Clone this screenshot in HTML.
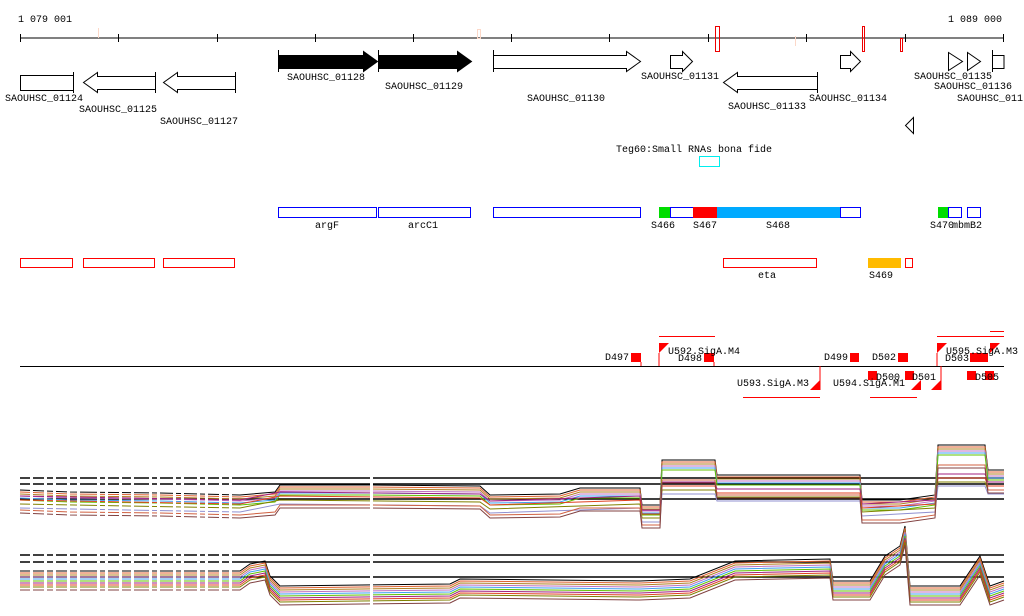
<!DOCTYPE html>
<html><head><style>
body{margin:0;background:#fff;width:1024px;height:611px;overflow:hidden}
svg text{font-family:"Liberation Mono",monospace;font-size:10px;fill:#000}
</style></head><body>
<svg width="1024" height="611" xmlns="http://www.w3.org/2000/svg">
<defs>
<polyline id="p1" fill="none" points="20,490 70,492 160,493 240,495 275,492 280,485 370,485 480,486 490,495 560,494 580,488 640,488 642,505 660,505 662,460 715,460 717,475 860,475 862,500 900,500 935,495 938,445 985,445 988,470 1004,470"/>
<polyline id="p1b" fill="none" points="20,492 240,496 280,488 480,490 490,497 640,492 642,506 660,506 662,478 715,478 717,485 860,485 862,500 935,496 938,470 985,470 988,478 1004,478"/>
<polyline id="p2" fill="none" points="20,575 240,575 250,568 265,565 270,580 280,590 450,588 460,583 640,585 690,583 735,565 830,563 833,585 870,585 885,560 900,550 905,530 910,590 960,590 980,560 990,590 1004,585"/>
</defs>
<text x="18" y="22">1 079 001</text>
<text x="1002" y="22" text-anchor="end">1 089 000</text>
<line x1="20" y1="38" x2="1004" y2="38" stroke="#000"/>
<g stroke="#000">
<line x1="20.5" y1="34" x2="20.5" y2="42"/><line x1="118.5" y1="34" x2="118.5" y2="42"/><line x1="217.5" y1="34" x2="217.5" y2="42"/><line x1="315.5" y1="34" x2="315.5" y2="42"/><line x1="413.5" y1="34" x2="413.5" y2="42"/><line x1="511.5" y1="34" x2="511.5" y2="42"/><line x1="609.5" y1="34" x2="609.5" y2="42"/><line x1="708.5" y1="34" x2="708.5" y2="42"/><line x1="806.5" y1="34" x2="806.5" y2="42"/><line x1="905.5" y1="34" x2="905.5" y2="42"/><line x1="1003.5" y1="34" x2="1003.5" y2="42"/>
</g>
<g fill="none" stroke="#fcd8c8"><line x1="98.5" y1="28" x2="98.5" y2="38"/><rect x="477.5" y="29.5" width="3" height="9"/><line x1="795.5" y1="36" x2="795.5" y2="46"/></g>
<g fill="none" stroke="#e00"><rect x="715.5" y="26.5" width="4" height="25"/><rect x="862.5" y="26.5" width="2" height="25"/><rect x="900.5" y="38.5" width="2" height="13"/></g>
<g stroke="#000" fill="#fff">
<path d="M20.5,75.5H73.5V90.5H20.5Z"/><line x1="73.5" y1="72" x2="73.5" y2="93"/>
<path d="M155.5,76.5H97.5V72.5L83.5,82.5L97.5,92.5V89.5H155.5Z"/><line x1="155.5" y1="72" x2="155.5" y2="93"/>
<path d="M235.5,76.5H177.5V72.5L163.5,82.5L177.5,92.5V89.5H235.5Z"/><line x1="235.5" y1="72" x2="235.5" y2="93"/>
<path d="M278.5,55.5H363.5V51.5L377.5,61.5L363.5,71.5V68.5H278.5Z" fill="#000"/><line x1="278.5" y1="50" x2="278.5" y2="72"/>
<path d="M378.5,55.5H457.5V51.5L471.5,61.5L457.5,71.5V68.5H378.5Z" fill="#000"/><line x1="378.5" y1="50" x2="378.5" y2="72"/>
<path d="M493.5,55.5H626.5V51.5L640.5,61.5L626.5,71.5V68.5H493.5Z"/><line x1="493.5" y1="50" x2="493.5" y2="72"/>
<path d="M670.5,55.5H682.5V51.5L692.5,61.5L682.5,71.5V68.5H670.5Z"/>
<path d="M817.5,76.5H737.5V72.5L723.5,82.5L737.5,92.5V89.5H817.5Z"/><line x1="817.5" y1="72" x2="817.5" y2="93"/>
<path d="M840.5,55.5H850.5V51.5L860.5,61.5L850.5,71.5V68.5H840.5Z"/>
<path d="M948.5,52.5L962.5,61.5L948.5,70.5Z"/><path d="M967.5,52.5L980.5,61.5L967.5,70.5Z"/>
<path d="M992.5,55.5H1004V68.5H992.5Z"/><line x1="992.5" y1="50" x2="992.5" y2="72"/>
<path d="M913.5,117.5L905.5,125.5L913.5,133.5Z"/>
</g>
<text x="5" y="101">SAOUHSC_01124</text>
<text x="79" y="112">SAOUHSC_01125</text>
<text x="160" y="124">SAOUHSC_01127</text>
<text x="287" y="80">SAOUHSC_01128</text>
<text x="385" y="89">SAOUHSC_01129</text>
<text x="527" y="101">SAOUHSC_01130</text>
<text x="641" y="79">SAOUHSC_01131</text>
<text x="728" y="109">SAOUHSC_01133</text>
<text x="809" y="101">SAOUHSC_01134</text>
<text x="914" y="79">SAOUHSC_01135</text>
<text x="934" y="89">SAOUHSC_01136</text>
<text x="957" y="101">SAOUHSC_011</text>
<text x="616" y="152">Teg60:Small RNAs bona fide</text>
<rect x="699.5" y="156.5" width="20" height="10" fill="none" stroke="#0ee"/>
<g fill="#fff" stroke="#00f">
<rect x="278.5" y="207.5" width="98" height="10"/><rect x="378.5" y="207.5" width="92" height="10"/><rect x="493.5" y="207.5" width="147" height="10"/>
<rect x="670.5" y="207.5" width="23" height="10"/><rect x="840.5" y="207.5" width="20" height="10"/>
<rect x="948.5" y="207.5" width="13" height="10"/><rect x="967.5" y="207.5" width="13" height="10"/>
</g>
<rect x="659" y="207" width="11" height="11" fill="#0d0"/>
<rect x="693" y="207" width="24" height="11" fill="#f00"/>
<rect x="717" y="207" width="123" height="11" fill="#0af"/>
<rect x="938" y="207" width="10" height="11" fill="#0d0"/>
<text x="327" y="228" text-anchor="middle">argF</text>
<text x="423" y="228" text-anchor="middle">arcC1</text>
<text x="663" y="228" text-anchor="middle">S466</text>
<text x="705" y="228" text-anchor="middle">S467</text>
<text x="778" y="228" text-anchor="middle">S468</text>
<text x="930" y="228">S470</text><text x="952" y="228">mbmB2</text>
<g fill="#fff" stroke="#f00">
<rect x="20.5" y="258.5" width="52" height="9"/><rect x="83.5" y="258.5" width="71" height="9"/><rect x="163.5" y="258.5" width="71" height="9"/>
<rect x="723.5" y="258.5" width="93" height="9"/><rect x="905.5" y="258.5" width="7" height="9"/>
</g>
<rect x="868" y="258" width="33" height="10" fill="#fb0"/>
<text x="767" y="278" text-anchor="middle">eta</text>
<text x="869" y="278">S469</text>
<line x1="20" y1="366.5" x2="1004" y2="366.5" stroke="#000"/>
<g fill="#f00">
<rect x="631" y="353" width="10" height="9"/><rect x="704" y="353" width="10" height="9"/><rect x="850" y="353" width="9" height="9"/><rect x="898" y="353" width="10" height="9"/>
<rect x="868" y="371" width="9" height="9"/><rect x="905" y="371" width="9" height="9"/><rect x="967" y="371" width="9" height="9"/><rect x="985" y="371" width="9" height="9"/>
<rect x="970" y="353" width="18" height="9"/>
<path d="M659,343h10l-10,10z"/><path d="M937,343h10l-10,10z"/><path d="M990,343h10l-10,10z"/>
<path d="M820,390h-10l10,-10z"/><path d="M941,390h-10l10,-10z"/><path d="M921,390h-10l10,-10z"/>
</g>
<g stroke="#f00" fill="none">
<line x1="659" y1="336.5" x2="715" y2="336.5"/><line x1="937" y1="336.5" x2="1004" y2="336.5"/><line x1="990" y1="331.5" x2="1004" y2="331.5"/>
<line x1="743" y1="397.5" x2="820" y2="397.5"/><line x1="870" y1="397.5" x2="917" y2="397.5"/>
<line x1="641" y1="362" x2="641" y2="366"/><line x1="714" y1="362" x2="714" y2="366"/><line x1="659" y1="353" x2="659" y2="366"/><line x1="820" y1="366" x2="820" y2="390"/><line x1="941" y1="366" x2="941" y2="390"/><line x1="937" y1="353" x2="937" y2="366"/>
</g>
<text x="605" y="360">D497</text><text x="678" y="361">D498</text><text x="668" y="354">U592.SigA.M4</text>
<text x="824" y="360">D499</text><text x="872" y="360">D502</text>
<text x="737" y="386">U593.SigA.M3</text><text x="833" y="386">U594.SigA.M1</text>
<text x="876" y="380">D500</text><text x="912" y="380">D501</text>
<text x="946" y="354">U595.SigA.M3</text><text x="945" y="361">D503</text><text x="975" y="380">D505</text>
<g stroke="#000" stroke-width="1.5"><line x1="20" y1="478" x2="1004" y2="478"/><line x1="20" y1="484" x2="1004" y2="484"/><line x1="20" y1="499" x2="1004" y2="499"/></g>
<g stroke-width="1">
<use href="#p1" stroke="#000" transform="translate(0,0)"/>
<use href="#p1" stroke="#e06030" transform="translate(0,2)"/>
<use href="#p1" stroke="#b08020" transform="translate(0,4)"/>
<use href="#p1" stroke="#c070c0" transform="translate(0,6)"/>
<use href="#p1" stroke="#40a0f0" transform="translate(0,8)"/>
<use href="#p1" stroke="#60c000" transform="translate(0,10)"/>
<use href="#p1b" stroke="#a02080" transform="translate(0,4)"/>
<use href="#p1b" stroke="#e04020" transform="translate(0,8)"/>
<use href="#p1b" stroke="#808000" transform="translate(0,12)"/>
<use href="#p1b" stroke="#9090d0" transform="translate(0,16)"/>
<use href="#p1" stroke="#d06040" transform="translate(0,20)"/>
<use href="#p1" stroke="#804040" transform="translate(0,23)"/>
</g>
<g stroke="#000" stroke-width="1.5"><line x1="20" y1="555" x2="1004" y2="555"/><line x1="20" y1="562" x2="1004" y2="562"/><line x1="20" y1="577" x2="1004" y2="577"/></g>
<g stroke-width="1">
<use href="#p2" stroke="#000" transform="translate(0,-4)"/>
<use href="#p2" stroke="#e06030" transform="translate(0,-2)"/>
<use href="#p2" stroke="#b08020" transform="translate(0,0)"/>
<use href="#p2" stroke="#c070c0" transform="translate(0,2)"/>
<use href="#p2" stroke="#40a0f0" transform="translate(0,4)"/>
<use href="#p2" stroke="#60c000" transform="translate(0,6)"/>
<use href="#p2" stroke="#a02080" transform="translate(0,8)"/>
<use href="#p2" stroke="#e04020" transform="translate(0,10)"/>
<use href="#p2" stroke="#808000" transform="translate(0,12)"/>
<use href="#p2" stroke="#804040" transform="translate(0,15)"/>
</g>
<g fill="#fff">
<rect x="370" y="440" width="3" height="171"/>
<rect x="30" y="470" width="3" height="60"/><rect x="44" y="470" width="3" height="60"/><rect x="53" y="470" width="3" height="60"/><rect x="67" y="470" width="3" height="60"/><rect x="77" y="470" width="3" height="60"/><rect x="97" y="470" width="3" height="60"/><rect x="105" y="470" width="3" height="60"/><rect x="119" y="470" width="3" height="60"/><rect x="131" y="470" width="3" height="60"/><rect x="149" y="470" width="3" height="60"/><rect x="157" y="470" width="3" height="60"/><rect x="173" y="470" width="3" height="60"/><rect x="181" y="470" width="3" height="60"/><rect x="197" y="470" width="3" height="60"/><rect x="205" y="470" width="3" height="60"/><rect x="219" y="470" width="3" height="60"/><rect x="229" y="470" width="3" height="60"/>
<rect x="30" y="550" width="3" height="55"/><rect x="44" y="550" width="3" height="55"/><rect x="53" y="550" width="3" height="55"/><rect x="67" y="550" width="3" height="55"/><rect x="77" y="550" width="3" height="55"/><rect x="97" y="550" width="3" height="55"/><rect x="105" y="550" width="3" height="55"/><rect x="119" y="550" width="3" height="55"/><rect x="131" y="550" width="3" height="55"/><rect x="149" y="550" width="3" height="55"/><rect x="157" y="550" width="3" height="55"/><rect x="173" y="550" width="3" height="55"/><rect x="181" y="550" width="3" height="55"/><rect x="197" y="550" width="3" height="55"/><rect x="205" y="550" width="3" height="55"/><rect x="219" y="550" width="3" height="55"/><rect x="229" y="550" width="3" height="55"/>
</g>
</svg>
</body></html>
